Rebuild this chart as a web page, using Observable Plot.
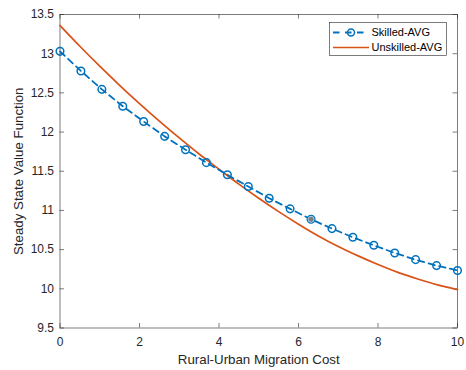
<!DOCTYPE html>
<html>
<head>
<meta charset="utf-8">
<script src="https://cdn.jsdelivr.net/npm/d3@7"></script>
<script src="https://cdn.jsdelivr.net/npm/@observablehq/plot@0.6"></script>
<style>
  html, body { margin: 0; padding: 0; background: #fff; }
  svg { display: block; }
</style>
</head>
<body>
<div id="chart"></div>
<script>
// Skilled-AVG: 20 markers, migration cost 0..10
const skilledX = [0, 0.526, 1.053, 1.579, 2.105, 2.632, 3.158, 3.684, 4.211, 4.737,
                  5.263, 5.789, 6.316, 6.842, 7.368, 7.895, 8.421, 8.947, 9.474, 10];
const skilledY = [13.03, 12.78, 12.545, 12.33, 12.135, 11.945, 11.775, 11.61, 11.455, 11.305,
                  11.155, 11.02, 10.887, 10.768, 10.657, 10.555, 10.457, 10.372, 10.296, 10.234];
// Unskilled-AVG: solid curve
const unskilledX = [0, 0.5, 1, 1.5, 2, 2.5, 3, 3.5, 4, 4.5, 5, 5.5, 6, 6.5, 7, 7.5, 8, 8.5, 9, 9.5, 10];
const unskilledY = [13.36, 13.095, 12.841, 12.597, 12.363, 12.139, 11.925, 11.72, 11.527, 11.335, 11.155,
                    10.985, 10.825, 10.675, 10.54, 10.42, 10.31, 10.21, 10.125, 10.05, 9.99];
const xTicks = [0, 2, 4, 6, 8, 10];
const yTicks = [9.5, 10, 10.5, 11, 11.5, 12, 12.5, 13, 13.5];
const seriesNames = ["Skilled-AVG", "Unskilled-AVG"];
const datatipIndex = [12];

const blue = "#0072BD";
const red = "#D95319";
const axisColor = "#262626";

const skilled = skilledX.map((x, i) => ({x, y: skilledY[i]}));
const unskilled = unskilledX.map((x, i) => ({x, y: unskilledY[i]}));

const W = 466, H = 370;
const mL = 59.5, mR = 9, mT = 14, mB = 42.5;
const ph = H - mT - mB;
const pw = W - mL - mR;
const tl = 4.5;

const plot = Plot.plot({
  width: W, height: H,
  marginLeft: mL, marginRight: mR, marginTop: mT, marginBottom: mB,
  style: {fontFamily: "'Liberation Sans', Arial, sans-serif", fontSize: "12px", color: axisColor, background: "#fff"},
  x: {domain: [0, 10], ticks: xTicks},
  y: {domain: [9.5, 13.5], ticks: yTicks},
  marks: [
    Plot.axisX(xTicks, {tickSize: 0, tickPadding: 9, fontSize: 12, fill: axisColor,
      label: "Rural-Urban Migration Cost", labelAnchor: "center", labelOffset: 36, labelArrow: "none"}),
    Plot.axisY(yTicks, {tickSize: 0, tickPadding: 6, fontSize: 12, fill: axisColor,
      tickFormat: d => String(d),
      label: "Steady State Value Function", labelAnchor: "center", labelOffset: 46, labelArrow: "none"}),
    // inward ticks on all four sides (box on)
    Plot.tickX(xTicks, {x: d => d, stroke: axisColor, strokeWidth: 0.6, insetTop: ph - tl}),
    Plot.tickX(xTicks, {x: d => d, stroke: axisColor, strokeWidth: 0.6, insetBottom: ph - tl}),
    Plot.tickY(yTicks, {y: d => d, stroke: axisColor, strokeWidth: 0.6, insetRight: pw - tl}),
    Plot.tickY(yTicks, {y: d => d, stroke: axisColor, strokeWidth: 0.6, insetLeft: pw - tl}),
    Plot.frame({stroke: axisColor, strokeWidth: 0.6}),
    Plot.line(unskilled, {x: "x", y: "y", stroke: red, strokeWidth: 1.7, curve: "monotone-x"}),
    Plot.line(skilled, {x: "x", y: "y", stroke: blue, strokeWidth: 1.8, strokeDasharray: "6.5,4.5"}),
    Plot.dot(skilled, {x: "x", y: "y", r: 3.8, stroke: blue, strokeWidth: 1.5, fill: "none"}),
    Plot.dot(datatipIndex.map(i => skilled[i]), {x: "x", y: "y", r: 3, fill: "#7f7f7f", stroke: "#9ec7e6", strokeWidth: 1})
  ]
});

// Legend (MATLAB-style, inside the axes, top-right)
const svg = d3.select(plot);
const lg = svg.append("g")
  .attr("font-family", "'Liberation Sans', Arial, sans-serif")
  .attr("font-size", 11)
  .attr("text-anchor", "start");
lg.append("rect").attr("x", 329.5).attr("y", 22.5).attr("width", 117).attr("height", 33)
  .attr("fill", "#fff").attr("stroke", axisColor).attr("stroke-width", 0.6);
// row 1
lg.append("line").attr("x1", 333).attr("x2", 369).attr("y1", 32.5).attr("y2", 32.5)
  .attr("stroke", blue).attr("stroke-width", 1.8).attr("stroke-dasharray", "6.5,5.5");
lg.append("circle").attr("cx", 351).attr("cy", 32.5).attr("r", 3.5)
  .attr("fill", "none").attr("stroke", blue).attr("stroke-width", 1.5);
lg.append("text").attr("x", 371.5).attr("y", 32.5).attr("dy", "0.35em")
  .attr("text-anchor", "start").attr("fill", "#000").text(seriesNames[0]);
// row 2
lg.append("line").attr("x1", 333).attr("x2", 369).attr("y1", 47.5).attr("y2", 47.5)
  .attr("stroke", red).attr("stroke-width", 1.7);
lg.append("text").attr("x", 371.5).attr("y", 47.5).attr("dy", "0.35em")
  .attr("text-anchor", "start").attr("fill", "#000").text(seriesNames[1]);

svg.selectAll("[aria-label='x-axis label'] text, [aria-label='y-axis label'] text").attr("font-size", 13.3);

document.getElementById("chart").appendChild(plot);
</script>
</body>
</html>
